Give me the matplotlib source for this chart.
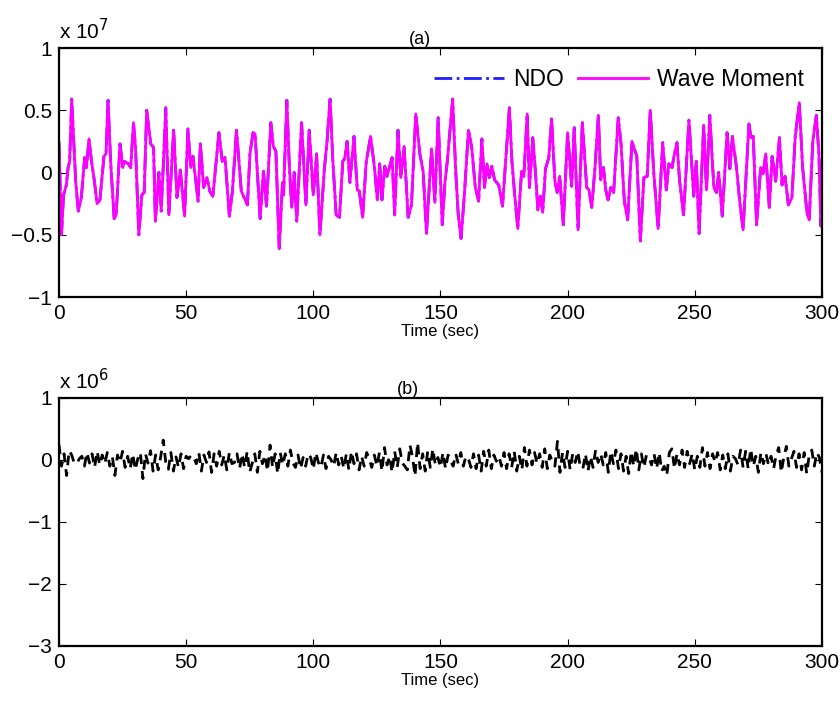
import numpy as np
import matplotlib
matplotlib.use("Agg")
import matplotlib.pyplot as plt

plt.rcParams['font.family'] = ['Liberation Sans', 'DejaVu Sans']

# wave moment (x 10^7)
t_wave = [0, 1.0, 1.8, 2.9, 3.6, 4.2, 5.0, 5.8, 6.6, 7.6, 8.8, 10.1, 10.8, 11.8, 12.8,
          13.8, 15.0, 16.1, 17.7, 18.5, 19.3, 20.3, 21.7, 22.5, 24.0, 25.1, 25.6, 27.3,
          28.2, 29.3, 30.1, 31.4, 32.6, 33.5, 34.5, 36.1, 37.2, 37.9, 39.3, 40.2, 41.1,
          42.0, 43.2, 45.1, 46.4, 47.7, 49.4, 50.7, 51.8, 52.7, 54.7, 55.6, 56.9, 58.2,
          59.3, 60.5, 62.9, 64.2, 65.3, 67.0, 68.2, 69.8, 71.7, 74.1, 75.1, 76.3, 77.1,
          79.1, 80.4, 81.6, 83.3, 84.3, 85.3, 86.6, 87.9, 88.3, 89.6, 90.5, 91.5, 92.5,
          93.5, 95.4, 97.1, 98.4, 100.0, 101.3, 102.6, 104.4, 105.4, 106.6, 107.7, 109.0,
          110.3, 111.6, 112.3, 113.3, 114.4, 116.0, 117.3, 118.1, 119.4, 120.8, 122.5,
          123.9, 125.2, 126.1, 127.0, 128.1, 129.0, 131.0, 132.0, 133.3, 134.4, 135.7,
          137.3, 138.6, 140.3, 141.9, 143.2, 144.5, 146.5, 147.8, 149.1, 150.7, 151.8,
          152.7, 154.8, 156.0, 157.0, 158.1, 159.4, 161.0, 162.3, 163.7, 165.0, 166.3,
          167.3, 168.3, 169.2, 170.2, 171.3, 172.9, 174.4, 177.1, 178.1, 179.2, 180.4,
          181.9, 182.8, 184.1, 185.0, 186.3, 187.4, 188.3, 189.3, 190.2, 191.3, 192.6,
          193.7, 195.0, 195.9, 196.9, 198.3, 200.0, 201.6, 202.6, 204.1, 205.8, 207.5,
          208.4, 209.5, 210.8, 212.1, 213.0, 214.1, 215.0, 215.9, 217.0, 218.1, 219.9,
          221.0, 222.3, 223.6, 225.3, 227.2, 228.6, 230.0, 231.3, 232.5, 233.9, 235.6,
          237.4, 238.8, 239.8, 241.1, 241.8, 243.0, 244.0, 245.6, 247.7, 249.6, 250.6,
          251.7, 253.5, 254.6, 255.9, 257.5, 258.5, 259.4, 260.8, 262.7, 263.8, 264.8,
          266.4, 267.7, 269.0, 271.3, 272.1, 273.0, 274.3, 275.9, 276.9, 277.9, 279.3,
          280.4, 281.8, 283.3, 284.3, 285.5, 286.8, 288.2, 289.5, 291.1, 292.4, 294.1,
          295.0, 296.4, 297.8, 298.8, 299.6, 300.0]
m_wave = [0.24, -0.50, -0.18, -0.10, 0.04, 0.09, 0.59, 0.25, -0.08, -0.31, -0.20, 0.12,
          0.04, 0.27, 0.09, -0.05, -0.25, -0.22, 0.13, 0.15, 0.58, 0.09, -0.37, -0.34,
          0.23, 0.04, 0.09, 0.07, 0.04, 0.40, 0.20, -0.50, -0.18, -0.16, 0.50, 0.23,
          0.20, -0.39, 0.00, -0.31, 0.09, 0.52, -0.34, 0.34, -0.20, 0.02, -0.35, 0.35,
          0.04, 0.13, -0.23, 0.23, -0.12, -0.04, -0.15, -0.19, 0.32, 0.09, 0.12, -0.35,
          -0.15, 0.34, -0.15, -0.26, 0.15, 0.32, 0.31, -0.37, 0.01, -0.27, 0.40, 0.21,
          0.17, -0.61, -0.08, -0.18, 0.58, 0.09, -0.28, 0.00, -0.39, 0.40, -0.26, 0.34,
          -0.18, 0.15, -0.50, 0.04, 0.25, 0.59, 0.09, -0.34, -0.36, 0.09, 0.11, 0.25,
          -0.08, 0.29, -0.14, -0.15, -0.36, 0.08, 0.29, 0.07, -0.22, 0.07, -0.22, 0.05,
          -0.03, 0.12, -0.34, 0.34, -0.04, 0.21, -0.36, -0.26, 0.47, 0.15, 0.01, -0.49,
          0.19, -0.24, 0.44, -0.42, -0.07, 0.09, 0.59, 0.01, -0.34, -0.53, -0.18, 0.34,
          0.20, -0.12, -0.23, 0.27, -0.12, 0.07, -0.04, 0.05, -0.06, -0.10, -0.27, 0.52,
          0.09, -0.18, -0.45, 0.01, -0.03, 0.47, -0.12, 0.28, -0.01, -0.30, -0.19, -0.32,
          0.03, 0.12, 0.43, -0.07, -0.16, -0.03, -0.42, 0.32, -0.11, 0.36, -0.46, 0.40,
          -0.12, -0.14, -0.28, 0.05, 0.46, -0.06, 0.04, -0.14, -0.22, -0.12, -0.16, 0.44,
          0.23, -0.23, -0.38, 0.25, 0.13, -0.55, -0.04, -0.03, 0.50, -0.01, -0.45, 0.24,
          -0.14, 0.07, 0.04, 0.13, 0.24, -0.06, -0.34, 0.42, -0.19, 0.09, -0.49, 0.38,
          -0.14, 0.46, -0.12, -0.16, 0.00, -0.35, 0.32, 0.03, 0.29, 0.04, -0.24, -0.46,
          0.39, 0.28, 0.29, -0.42, 0.04, -0.01, 0.15, -0.28, 0.13, -0.07, 0.28, -0.10,
          -0.03, -0.26, -0.20, 0.29, 0.56, 0.04, -0.32, -0.38, 0.25, 0.46, 0.15, -0.43,
          0.08]

# estimation error (x 10^6), one value per second
err = [0.25, -0.10, 0.10, -0.25, 0.15, 0.08, -0.05, -0.06, 0.02, 0.06, -0.10, 0.12,
       -0.05, 0.10, -0.12, 0.14, -0.08, 0.08, -0.06, 0.12, -0.10, 0.05, -0.25, 0.08,
       -0.04, 0.14, -0.12, 0.06, -0.14, 0.10, -0.16, 0.02, 0.12, -0.30, 0.10, -0.05,
       0.15, -0.18, 0.08, -0.16, 0.05, 0.32, -0.04, -0.15, 0.12, -0.18, 0.05, -0.12,
       0.10, -0.14, 0.06, 0.02, 0.08, 0.04, -0.06, 0.12, -0.18, 0.08, -0.04, 0.13,
       -0.20, 0.10, -0.10, 0.14, -0.08, 0.08, -0.16, 0.12, -0.06, -0.04, 0.10, -0.14,
       0.10, -0.12, 0.14, -0.20, -0.05, 0.10, -0.20, 0.14, -0.06, 0.08, -0.18, 0.24,
       -0.12, 0.10, -0.22, 0.12, -0.08, 0.10, -0.10, 0.16, -0.05, -0.12, 0.08, -0.14,
       0.04, -0.10, 0.10, 0.04, -0.15, 0.12, -0.04, -0.12, 0.08, -0.14, 0.06, 0.00,
       -0.10, 0.12, -0.08, 0.06, -0.14, 0.10, -0.16, 0.14, -0.06, 0.10, -0.16, 0.06,
       -0.10, 0.12, 0.02, -0.12, 0.08, -0.10, 0.12, -0.18, 0.20, -0.08, 0.06, -0.20,
       0.14, -0.12, 0.18, -0.05, -0.10, -0.16, 0.24, 0.06, -0.26, 0.28, -0.14, 0.10,
       -0.18, 0.14, -0.12, 0.18, -0.08, 0.04, -0.12, 0.12, -0.14, 0.08, -0.02, -0.10,
       0.10, -0.06, 0.12, -0.10, 0.06, 0.02, -0.12, 0.10, -0.14, 0.08, -0.18, 0.14,
       -0.10, 0.16, -0.14, 0.08, -0.02, 0.06, -0.10, 0.12, -0.14, 0.10, -0.12, 0.14,
       -0.18, 0.06, -0.16, 0.20, -0.10, 0.16, -0.08, 0.12, -0.06, 0.10, -0.12, 0.18,
       -0.14, 0.08, -0.02, -0.10, 0.30, -0.20, 0.12, -0.12, 0.14, -0.16, 0.10, -0.04,
       0.14, -0.12, -0.14, 0.10, -0.18, 0.06, -0.12, 0.16, -0.04, 0.10, -0.08, 0.12,
       -0.20, 0.14, -0.06, 0.16, -0.14, 0.10, -0.18, 0.06, -0.22, 0.14, -0.10, 0.18,
       -0.16, 0.10, -0.12, 0.08, 0.04, -0.08, 0.10, -0.14, 0.12, -0.18, -0.10, -0.25,
       0.12, 0.18, -0.14, 0.10, -0.08, 0.16, -0.12, 0.14, -0.06, 0.10, -0.16, 0.06,
       -0.12, 0.20, -0.10, 0.12, -0.14, 0.10, -0.04, 0.12, -0.16, 0.08, -0.14, 0.10,
       -0.18, 0.06, 0.02, -0.08, 0.16, -0.12, 0.14, -0.14, 0.18, -0.10, 0.06, -0.20,
       0.12, -0.06, 0.10, -0.08, 0.06, -0.14, 0.08, 0.20, -0.20, 0.04, 0.22, -0.10,
       0.02, 0.14, -0.12, 0.10, -0.16, 0.12, -0.22, 0.08, 0.16, -0.10, 0.12, 0.04,
       -0.20]
t_err = np.arange(len(err))

fig = plt.figure(figsize=(8.4, 7.05), dpi=100)
ax1 = fig.add_axes([0.0702, 0.5787, 0.9083, 0.3532])
ax2 = fig.add_axes([0.0702, 0.0837, 0.9083, 0.3518])

ax1.plot(t_wave, m_wave, color='#1f1fff', ls='-.', lw=2.0, label='NDO')
ax1.plot(t_wave, m_wave, color='#ff00ff', lw=2.0, label='Wave Moment')
ax1.set_ylim(-1, 1)
ax1.set_yticks([-1, -0.5, 0, 0.5, 1])
ax1.set_yticklabels(['\u22121', '\u22120.5', '0', '0.5', '1'])
ax1.legend(loc='upper right', bbox_to_anchor=(0.988, 0.955), ncol=2, frameon=False,
           fontsize=16.5, handlelength=3.05, columnspacing=0.6, borderaxespad=0,
           handletextpad=0.4)
ax1.text(0, 1.02, r'x 10$^7$', transform=ax1.transAxes, fontsize=15, va='bottom')
ax1.text(0.473, 1.0, '(a)', transform=ax1.transAxes, fontsize=13, ha='center', va='bottom')

ax2.plot(t_err, err, color='black', ls=(0, (3.5, 2.5)), lw=2.0)
ax2.set_ylim(-3, 1)
ax2.set_yticks([-3, -2, -1, 0, 1])
ax2.set_yticklabels(['\u22123', '\u22122', '\u22121', '0', '1'])
ax2.text(0, 1.02, r'x 10$^6$', transform=ax2.transAxes, fontsize=15, va='bottom')
ax2.text(0.458, 1.0, '(b)', transform=ax2.transAxes, fontsize=13, ha='center', va='bottom')

for ax in (ax1, ax2):
    ax.set_xlim(0, 300)
    ax.set_xticks([0, 50, 100, 150, 200, 250, 300])
    ax.set_xlabel('Time (sec)', fontsize=12, labelpad=1)
    ax.tick_params(direction='in', top=True, right=True, labelsize=15, length=5,
                   width=0.8, pad=5)
    for s in ax.spines.values():
        s.set_linewidth(1.6)

fig.savefig('out.png', dpi=100)
